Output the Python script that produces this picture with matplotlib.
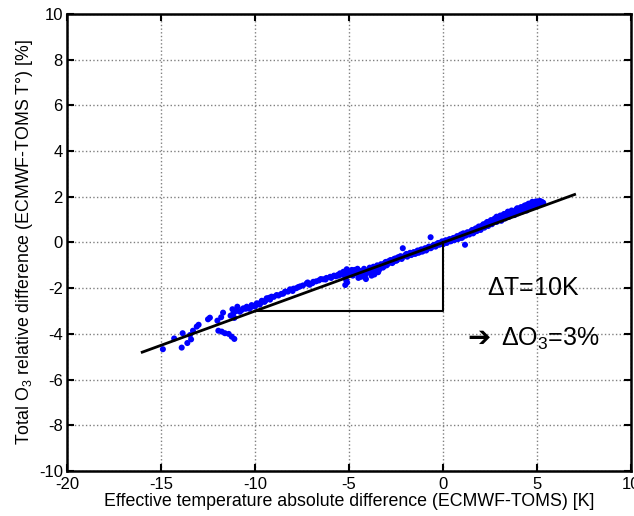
import matplotlib
matplotlib.use('Agg')
import matplotlib.pyplot as plt
import numpy as np

plt.rcParams['font.family'] = ['Liberation Sans', 'DejaVu Sans']
plt.rcParams['mathtext.fontset'] = 'custom'
plt.rcParams['mathtext.rm'] = 'Liberation Sans'
plt.rcParams['mathtext.it'] = 'Liberation Sans:italic'
plt.rcParams['axes.unicode_minus'] = False

# temperature difference [K] vs O3 relative difference [%]
dT = [-14.9, -14.3, -13.9, -13.85, -13.6, -13.4, -13.46, -13.3, -13.1, -13.0,
      -12.5, -12.4, -12.0, -11.8, -11.7, -11.3, -11.15, -11.2, -10.94, -11.0, -11.1,
      -11.95, -11.77, -11.6, -11.4, -11.24, -11.1,
      -10.8, -10.62, -10.44, -10.3, -10.18, -10.0, -9.9, -9.75, -9.64, -9.5,
      -9.38, -9.2, -9.12, -8.85, -8.6, -8.4, -8.14, -8.0, -7.8, -7.6,
      -7.25, -7.1, -6.9, -6.6, -6.37, -6.2, -6.0, -5.8, -5.6, -5.48,
      -5.3, -5.12, -5.2, -5.15, -5.2, -5.1, -5.0,
      -4.9, -4.8, -4.7, -4.6, -4.5, -4.4, -4.3, -4.2, -4.1, -4.0,
      -3.9, -3.8, -3.7, -3.6, -3.5, -3.4, -3.3, -3.2, -3.1, -3.0,
      -2.9, -2.8, -2.7, -2.6, -2.5, -2.4, -2.3, -2.2, -2.14, -2.0,
      -1.9, -1.8, -1.7, -1.6, -1.5, -1.4, -1.3, -1.2, -1.1, -1.0,
      -0.9, -0.8, -0.66, -0.6, -0.5, -0.4, -0.3, -0.2, -0.1, 0.0,
      0.1, 0.2, 0.3, 0.4, 0.5, 0.6, 0.7, 0.8, 0.9, 1.0,
      1.08, 1.17, 1.2, 1.3, 1.4, 1.5, 1.6, 1.7, 1.8, 1.97,
      2.0, 2.1, 2.2, 2.3, 2.4, 2.5, 2.6, 2.7, 2.85, 2.85,
      3.0, 3.1, 3.2, 3.3, 3.4, 3.5, 3.6, 3.74, 3.8, 3.9,
      4.0, 4.1, 4.2, 4.3, 4.45, 4.45, 4.6, 4.7, 4.8, 4.9,
      5.0, 5.1, 5.2, 5.33,
      -10.7, -10.5, -10.2, -9.95, -9.7, -9.45, -9.25, -9.0, -8.75, -8.5,
      -8.25, -7.95, -7.7, -7.45, -7.2, -6.95, -6.75, -6.5, -6.25, -5.95,
      -5.7, -5.55, -5.4, -5.25,
      -4.95, -4.85, -4.65, -4.55, -4.35, -4.25, -4.15, -3.95, -3.85, -3.75,
      -3.65, -3.55, -3.45, -3.35, -3.25, -3.15, -3.05, -2.95, -2.85, -2.75,
      -2.65, -2.55, -2.45, -2.35, -2.25, -2.1, -1.95, -1.85, -1.75, -1.65,
      -1.55, -1.45, -1.35, -1.25, -1.15, -1.05, -0.95, -0.85, -0.75, -0.65,
      -0.55, -0.45, -0.35, -0.25, -0.15, -0.05,
      0.05, 0.15, 0.25, 0.35, 0.45, 0.55, 0.65, 0.75, 0.85, 0.95,
      1.05, 1.15, 1.25, 1.35, 1.45, 1.55, 1.65, 1.75, 1.85, 1.9,
      2.05, 2.15, 2.25, 2.35, 2.45, 2.55, 2.65, 2.75, 2.95, 3.05,
      3.15, 3.25, 3.35, 3.45, 3.55, 3.65, 3.85, 3.95, 4.05, 4.15,
      4.25, 4.35, 4.55, 4.65, 4.75, 4.85, 4.95, 5.05, 5.15, 5.25]
dO3 = [-4.67, -4.2, -4.6, -3.97, -4.4, -4.24, -4.05, -3.86, -3.68, -3.6,
       -3.36, -3.29, -3.42, -3.27, -3.07, -3.2, -3.1, -2.92, -2.81, -3.0, -3.3,
       -3.86, -3.9, -3.97, -4.0, -4.12, -4.22,
       -3.03, -2.88, -2.81, -2.9, -2.74, -2.8, -2.66, -2.72, -2.55, -2.6,
       -2.44, -2.5, -2.37, -2.3, -2.25, -2.15, -2.05, -2.12, -2.0, -1.92,
       -1.79, -1.85, -1.72, -1.66, -1.61, -1.55, -1.5, -1.45, -1.42, -1.35,
       -1.28, -1.17, -1.5, -1.65, -1.86, -1.75, -1.35,
       -1.3, -1.45, -1.2, -1.35, -1.55, -1.25, -1.4, -1.15, -1.6, -1.3,
       -1.1, -1.45, -1.06, -1.25, -1.0, -1.2, -0.95, -1.1, -0.9, -1.0,
       -0.82, -0.77, -0.9, -0.72, -0.8, -0.65, -0.62, -0.72, -0.25, -0.55,
       -0.62, -0.5, -0.55, -0.45, -0.5, -0.4, -0.45, -0.33, -0.4, -0.3,
       -0.35, -0.22, 0.23, -0.2, -0.12, -0.18, -0.05, -0.1, 0.0, -0.08,
       0.05, -0.02, 0.1, 0.05, 0.15, 0.1, 0.22, 0.15, 0.3, 0.2,
       0.4, -0.1, 0.3, 0.45, 0.35, 0.5, 0.4, 0.58, 0.5, 0.69,
       0.55, 0.75, 0.65, 0.85, 0.72, 0.92, 0.8, 1.0, 1.13, 0.9,
       1.1, 0.95, 1.2, 1.05, 1.28, 1.12, 1.3, 1.35, 1.2, 1.45,
       1.28, 1.5, 1.35, 1.58, 1.64, 1.4, 1.6, 1.72, 1.55, 1.75,
       1.68, 1.78, 1.7, 1.74,
       -2.95, -2.9, -2.82, -2.72, -2.64, -2.55, -2.42, -2.38, -2.32, -2.24,
       -2.15, -2.02, -1.95, -1.88, -1.75, -1.78, -1.7, -1.6, -1.62, -1.55,
       -1.48, -1.45, -1.4, -1.35,
       -1.4, -1.2, -1.3, -1.15, -1.5, -1.3, -1.45, -1.2, -1.35, -1.2,
       -1.4, -1.1, -1.3, -1.05, -1.0, -1.05, -0.85, -0.95, -0.88, -0.78,
       -0.85, -0.7, -0.78, -0.7, -0.6, -0.62, -0.5, -0.55, -0.45, -0.52,
       -0.42, -0.48, -0.35, -0.42, -0.3, -0.35, -0.25, -0.3, -0.18, -0.25,
       -0.15, -0.1, -0.12, -0.02, -0.06, 0.05,
       0.0, 0.1, 0.05, 0.15, 0.08, 0.2, 0.15, 0.28, 0.2, 0.35,
       0.25, 0.38, 0.35, 0.4, 0.45, 0.55, 0.45, 0.62, 0.55, 0.7,
       0.65, 0.8, 0.72, 0.9, 0.8, 0.98, 0.88, 1.05, 1.0, 1.18,
       1.05, 1.25, 1.15, 1.35, 1.22, 1.4, 1.35, 1.5, 1.4, 1.55,
       1.45, 1.62, 1.7, 1.55, 1.78, 1.65, 1.8, 1.72, 1.82, 1.78]

# linear fit and the 10 K -> 3 % triangle
fit_x = [-16, 7]
fit_y = [-4.8, 2.1]
tri_x = [-10, 0, 0]
tri_y = [-3, -3, 0]

fig = plt.figure(figsize=(6.34, 5.16), dpi=100)
ax = fig.add_axes([0.1057, 0.0872, 0.8896, 0.8857])

ax.scatter(dT, dO3, s=19, color='#0000ff', edgecolors='none', zorder=3)
ax.plot(fit_x, fit_y, 'k-', lw=2, zorder=4)
ax.plot(tri_x, tri_y, 'k-', lw=1.5, zorder=4)

ax.set_xlim(-20, 10)
ax.set_ylim(-10, 10)
ax.set_xticks(np.arange(-20, 11, 5))
ax.set_yticks(np.arange(-10, 11, 2))
ax.grid(True, linestyle=':', color='#808080', lw=1)
ax.tick_params(direction='in', top=True, right=True, length=5, width=1.5,
               labelsize=12)
ax.tick_params(axis='x', pad=4)
ax.tick_params(axis='y', pad=3)
for s in ax.spines.values():
    s.set_linewidth(1.8)

ax.set_xlabel('Effective temperature absolute difference (ECMWF-TOMS) [K]',
              fontsize=12.8, labelpad=1)
ax.set_ylabel(r'Total O$_3$ relative difference (ECMWF-TOMS T°) [%]',
              fontsize=12.8, labelpad=3)

ax.text(4.8, -2.0, r'$\Delta$T=10K', fontsize=18, ha='center', va='center')
ax.text(1.3, -4.2, '\u2794', fontsize=20, ha='left', va='center',
        family='DejaVu Sans')
ax.text(3.1, -4.2, r'$\Delta$O$_3$=3%', fontsize=18, ha='left', va='center')

# title is cut off by the frame; only the subscript peeks in
fig.text(0.64, 1.004, r'O$_3$', fontsize=12, ha='left', va='baseline')

fig.savefig('out.png', dpi=100)
